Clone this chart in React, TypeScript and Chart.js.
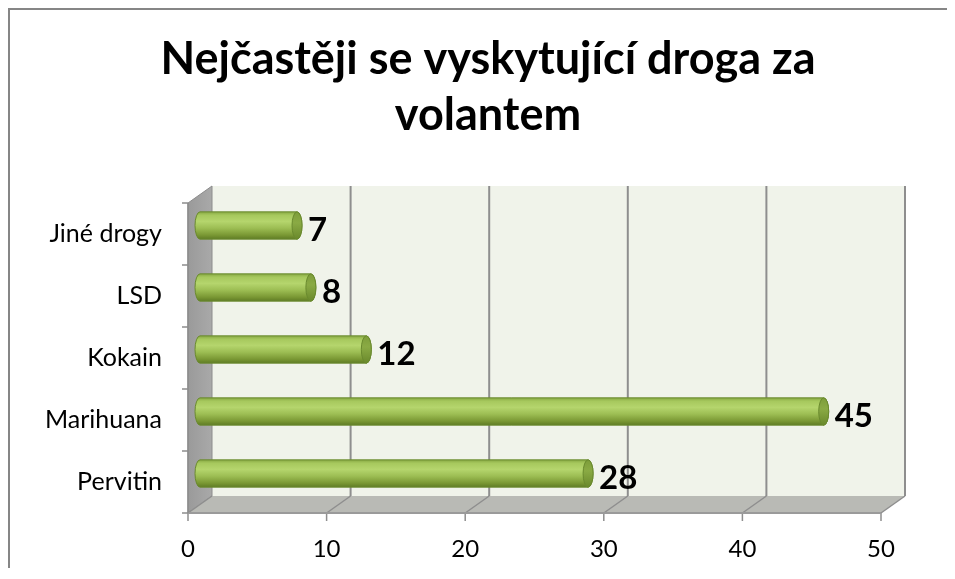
import React, { useEffect, useRef } from "react";
import { Chart, registerables } from "chart.js";

Chart.register(...registerables);

const titleLines = ["Nejčastěji se vyskytující droga za", "volantem"];
const categories = ["Pervitin", "Marihuana", "Kokain", "LSD", "Jiné drogy"];
const values = [28, 45, 12, 8, 7];
const xMin = 0;
const xMax = 50;
const xStep = 10;

const DX = 24;
const DY = -17;

const W = 939;
const H = 560;

function drawCylinder(ctx: CanvasRenderingContext2D, x0: number, x1: number, yc: number, h: number) {
  const r = h / 2;
  const rx = 5;
  const g = ctx.createLinearGradient(0, yc - r, 0, yc + r);
  g.addColorStop(0, "#87a843");
  g.addColorStop(0.12, "#a6c85d");
  g.addColorStop(0.35, "#b5d56d");
  g.addColorStop(0.6, "#9cbd53");
  g.addColorStop(0.85, "#7a9834");
  g.addColorStop(1, "#5f7c25");
  ctx.save();
  ctx.beginPath();
  ctx.moveTo(x0, yc - r);
  ctx.lineTo(x1, yc - r);
  ctx.ellipse(x1, yc, rx, r, 0, -Math.PI / 2, Math.PI / 2);
  ctx.lineTo(x0, yc + r);
  ctx.ellipse(x0, yc, rx, r, 0, Math.PI / 2, (3 * Math.PI) / 2);
  ctx.closePath();
  ctx.fillStyle = g;
  ctx.fill();
  ctx.strokeStyle = "#6a8a2e";
  ctx.lineWidth = 1;
  ctx.stroke();
  const cg = ctx.createLinearGradient(0, yc - r, 0, yc + r);
  cg.addColorStop(0, "#7d9d3a");
  cg.addColorStop(0.4, "#8aaa44");
  cg.addColorStop(1, "#6a892c");
  ctx.beginPath();
  ctx.ellipse(x1, yc, rx, r, 0, 0, Math.PI * 2);
  ctx.fillStyle = cg;
  ctx.fill();
  ctx.strokeStyle = "#6a8a2e";
  ctx.stroke();
  ctx.restore();
}

const scenePlugin = {
  id: "scene3d",
  beforeDraw(chart: any) {
    const ctx = chart.ctx as CanvasRenderingContext2D;
    ctx.save();
    ctx.fillStyle = "#ffffff";
    ctx.fillRect(0, 0, chart.width, chart.height);
    ctx.fillStyle = "#868686";
    ctx.fillRect(0, 0, 2, chart.height);
    ctx.fillRect(0, 0, chart.width, 2);
    ctx.fillStyle = "#000";
    ctx.font = "bold 45px Lato";
    ctx.textAlign = "center";
    ctx.textBaseline = "alphabetic";
    ctx.fillText(titleLines[0], 480, 66);
    ctx.fillText(titleLines[1], 480, 122);
    ctx.restore();
  },
  beforeDatasetsDraw(chart: any) {
    const ctx = chart.ctx as CanvasRenderingContext2D;
    const xs = chart.scales.x;
    const a = chart.chartArea;
    const x0 = xs.getPixelForValue(xMin);
    const x1 = xs.getPixelForValue(xMax);
    const top = a.top;
    const bottom = a.bottom;
    ctx.save();
    ctx.fillStyle = "#f0f3ea";
    ctx.fillRect(x0 + DX, top + DY, x1 - x0, bottom - top);
    const lg = ctx.createLinearGradient(x0, 0, x0 + DX, 0);
    lg.addColorStop(0, "#9a9a9a");
    lg.addColorStop(1, "#a9a9a9");
    ctx.beginPath();
    ctx.moveTo(x0, top);
    ctx.lineTo(x0 + DX, top + DY);
    ctx.lineTo(x0 + DX, bottom + DY);
    ctx.lineTo(x0, bottom);
    ctx.closePath();
    ctx.fillStyle = lg;
    ctx.fill();
    ctx.strokeStyle = "#8c8c8c";
    ctx.lineWidth = 1;
    ctx.stroke();
    ctx.beginPath();
    ctx.moveTo(x0, bottom);
    ctx.lineTo(x1, bottom);
    ctx.lineTo(x1 + DX, bottom + DY);
    ctx.lineTo(x0 + DX, bottom + DY);
    ctx.closePath();
    ctx.fillStyle = "#b9bab5";
    ctx.fill();
    ctx.strokeStyle = "#8e8e8e";
    for (let v = xMin; v <= xMax; v += xStep) {
      const px = xs.getPixelForValue(v);
      ctx.lineWidth = 2;
      if (v > xMin) {
        ctx.beginPath();
        ctx.moveTo(px + DX, top + DY);
        ctx.lineTo(px + DX, bottom + DY);
        ctx.stroke();
      }
      ctx.lineWidth = 1.5;
      ctx.beginPath();
      ctx.moveTo(px, bottom);
      ctx.lineTo(px + DX, bottom + DY);
      ctx.stroke();
      ctx.beginPath();
      ctx.moveTo(px, bottom);
      ctx.lineTo(px, bottom + 8);
      ctx.stroke();
    }
    ctx.lineWidth = 2;
    ctx.strokeStyle = "#9a9a9a";
    ctx.beginPath();
    ctx.moveTo(x0, bottom);
    ctx.lineTo(x1, bottom);
    ctx.stroke();
    ctx.strokeStyle = "#8c8c8c";
    ctx.lineWidth = 1.5;
    ctx.beginPath();
    ctx.moveTo(x0, top);
    ctx.lineTo(x0, bottom);
    ctx.stroke();
    const n = categories.length;
    for (let i = 0; i <= n; i++) {
      const y = top + ((bottom - top) * i) / n;
      ctx.beginPath();
      ctx.moveTo(x0 - 6, y);
      ctx.lineTo(x0, y);
      ctx.stroke();
    }
    ctx.restore();
  },
  afterDatasetsDraw(chart: any) {
    const ctx = chart.ctx as CanvasRenderingContext2D;
    const meta = chart.getDatasetMeta(0);
    ctx.save();
    meta.data.forEach((bar: any, i: number) => {
      const p = bar.getProps(["x", "y", "base", "height"], true);
      const xa = p.base + DX / 2;
      const xb = p.x + DX / 2;
      const yc = p.y + DY / 2;
      drawCylinder(ctx, xa, xb, yc, p.height);
      ctx.fillStyle = "#000";
      ctx.font = "bold 33px Lato";
      ctx.textAlign = "left";
      ctx.textBaseline = "middle";
      ctx.fillText(String(values[i]), xb + 11, yc + 5);
    });
    ctx.restore();
  },
};

export default function App() {
  const ref = useRef<HTMLCanvasElement | null>(null);
  useEffect(() => {
    if (!ref.current) return;
    const chart = new Chart(ref.current, {
      type: "bar",
      data: {
        labels: categories,
        datasets: [
          {
            data: values,
            backgroundColor: "rgba(0,0,0,0)",
            borderWidth: 0,
            barPercentage: 0.44,
            categoryPercentage: 1,
          },
        ],
      },
      options: {
        indexAxis: "y",
        responsive: false,
        animation: false,
        layout: { padding: { left: 0, right: W - 873, top: 195, bottom: 0 } },
        plugins: {
          legend: { display: false },
          tooltip: { enabled: false },
          title: { display: false },
        },
        scales: {
          x: {
            min: xMin,
            max: xMax,
            ticks: {
              stepSize: xStep,
              color: "#000",
              font: { family: "Lato", size: 24 },
              padding: 22,
              maxRotation: 0,
            },
            grid: { display: false, drawTicks: false },
            border: { display: false },
            afterFit: (s: any) => {
              s.height = H - 505;
            },
          },
          y: {
            reverse: true,
            ticks: { color: "#000", font: { family: "Lato", size: 25 }, padding: 26 },
            grid: { display: false, drawTicks: false },
            border: { display: false },
            afterFit: (s: any) => {
              s.width = 180;
            },
          },
        },
      },
      plugins: [scenePlugin],
    });
    return () => chart.destroy();
  }, []);
  return (
    <div style={{ position: "relative", width: W, height: H }}>
      <canvas ref={ref} width={W} height={H} style={{ display: "block" }} />
      <div style={{ position: "absolute", left: W, top: 0, width: 8, height: 2, background: "#868686" }} />
    </div>
  );
}
